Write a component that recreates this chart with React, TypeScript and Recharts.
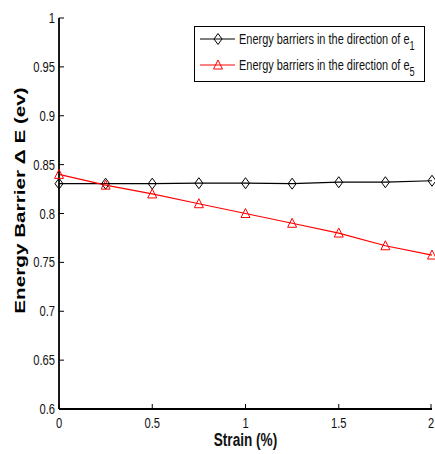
import React from 'react';
import { LineChart, Line, XAxis, YAxis } from 'recharts';

const strain = [0, 0.25, 0.5, 0.75, 1, 1.25, 1.5, 1.75, 2];
const barrierE1 = [0.8305, 0.8305, 0.8305, 0.831, 0.831, 0.8305, 0.832, 0.832, 0.8335];
const barrierE5 = [0.84, 0.829, 0.82, 0.81, 0.80, 0.79, 0.78, 0.767, 0.7575];
const xTicks = [0, 0.5, 1, 1.5, 2];
const yTicks = [0.6, 0.65, 0.7, 0.75, 0.8, 0.85, 0.9, 0.95, 1];

const data = strain.map((s, i) => ({ strain: s, e1: barrierE1[i], e5: barrierE5[i] }));

const SANS = '"Liberation Sans", Arial, sans-serif';
const TICK = 5;
const SQUEEZE = 0.8; // narrow Helvetica look

// text squeezed horizontally (and a bit stretched vertically, like the original)
const NText = ({ x, y, anchor = 'start', size = 14, weight = 'normal', sy = 1.08, children }: any) => (
  <text
    transform={`translate(${x},${y}) scale(${SQUEEZE},${sy})`}
    textAnchor={anchor}
    fontSize={size}
    fontWeight={weight}
    fontFamily={SANS}
    fill="#111"
  >
    {children}
  </text>
);

const BottomTick = (props: any) => {
  const { x, y, payload } = props;
  return (
    <g>
      <line x1={x} y1={y} x2={x} y2={y - TICK} stroke="#000" />
      <NText x={x} y={y + 19} anchor="middle" size={14}>{payload.value}</NText>
    </g>
  );
};

const TopTick = (props: any) => {
  const { x, y } = props;
  return <line x1={x} y1={y} x2={x} y2={y + TICK} stroke="#000" />;
};

const LeftTick = (props: any) => {
  const { x, y, payload } = props;
  return (
    <g>
      <line x1={x} y1={y} x2={x + TICK} y2={y} stroke="#000" />
      <NText x={x - 4} y={y + 5} anchor="end" size={14}>{payload.value}</NText>
    </g>
  );
};

const RightTick = (props: any) => {
  const { x, y } = props;
  return <line x1={x} y1={y} x2={x - TICK} y2={y} stroke="#000" />;
};

const Diamond = ({ cx, cy }: any) => (
  <polygon
    points={`${cx},${cy - 5.5} ${cx + 4},${cy} ${cx},${cy + 5.5} ${cx - 4},${cy}`}
    fill="none"
    stroke="#000"
    strokeWidth={1}
  />
);

const Triangle = ({ cx, cy }: any) => (
  <polygon
    points={`${cx},${cy - 5} ${cx + 4.5},${cy + 4} ${cx - 4.5},${cy + 4}`}
    fill="none"
    stroke="#ff0000"
    strokeWidth={1}
  />
);

const YLabel = (props: any) => {
  const { viewBox } = props;
  const x = viewBox.x + 25;
  const y = viewBox.y + viewBox.height / 2 - 13;
  return (
    <text
      transform={`translate(${x},${y}) rotate(-90) scale(1.38,1)`}
      textAnchor="middle"
      fontSize={15}
      fontWeight="bold"
      fontFamily={SANS}
      fill="#000"
    >
      Energy Barrier Δ E (ev)
    </text>
  );
};

const XLabel = (props: any) => {
  const { viewBox } = props;
  const x = viewBox.x + viewBox.width / 2;
  return <NText x={x} y={446} anchor="middle" size={17} weight="bold" sy={1.1}>Strain (%)</NText>;
};

const legendItems = [
  { label: 'Energy barriers in the direction of e', sub: '1', color: '#000', shape: 'diamond' },
  { label: 'Energy barriers in the direction of e', sub: '5', color: '#ff0000', shape: 'triangle' },
];

const LegendBox = () => (
  <svg
    width={231}
    height={56}
    style={{ position: 'absolute', left: 194, top: 26, display: 'block' }}
  >
    <rect x={0.5} y={0.5} width={230} height={55} fill="#fff" stroke="#000" strokeWidth={1} />
    {legendItems.map((it, i) => {
      const cy = 13 + i * 26;
      return (
        <g key={i}>
          <line x1={6} y1={cy} x2={41} y2={cy} stroke={it.color} strokeWidth={1} />
          {it.shape === 'diamond' ? <Diamond cx={24} cy={cy} /> : <Triangle cx={24} cy={cy} />}
          <NText x={45} y={cy + 5} size={13.7}>
            {it.label}
            <tspan dy={6} fontSize={11.5}>{it.sub}</tspan>
          </NText>
        </g>
      );
    })}
  </svg>
);

export default function App() {
  return (
    <div style={{ position: 'absolute', left: 0, top: 0, width: 435, height: 454, background: '#fff' }}>
      <LineChart width={435} height={454} data={data} margin={{ top: 18, right: 3, bottom: 0, left: 0 }}>
        <XAxis
          xAxisId="b"
          dataKey="strain"
          type="number"
          domain={[0, 2]}
          ticks={xTicks}
          height={45}
          tickSize={0}
          tickMargin={0}
          tickLine={false}
          axisLine={{ stroke: '#000', strokeWidth: 1.8 }}
          tick={<BottomTick />}
          label={<XLabel />}
        />
        <XAxis
          xAxisId="t"
          orientation="top"
          dataKey="strain"
          type="number"
          domain={[0, 2]}
          ticks={xTicks}
          height={0}
          tickSize={0}
          tickMargin={0}
          tickLine={false}
          axisLine={{ stroke: '#000', strokeWidth: 1.8 }}
          tick={<TopTick />}
        />
        <YAxis
          yAxisId="l"
          type="number"
          domain={[0.6, 1]}
          ticks={yTicks}
          width={59}
          tickSize={0}
          tickMargin={0}
          tickLine={false}
          axisLine={{ stroke: '#000', strokeWidth: 1.8 }}
          tick={<LeftTick />}
          label={<YLabel />}
        />
        <YAxis
          yAxisId="r"
          orientation="right"
          type="number"
          domain={[0.6, 1]}
          ticks={yTicks}
          width={0}
          tickSize={0}
          tickMargin={0}
          tickLine={false}
          axisLine={{ stroke: '#000', strokeWidth: 1.8 }}
          tick={<RightTick />}
        />
        <Line
          xAxisId="b"
          yAxisId="l"
          dataKey="e1"
          stroke="#000"
          strokeWidth={1.2}
          dot={<Diamond />}
          activeDot={false}
          isAnimationActive={false}
        />
        <Line
          xAxisId="b"
          yAxisId="l"
          dataKey="e5"
          stroke="#ff0000"
          strokeWidth={1.2}
          dot={<Triangle />}
          activeDot={false}
          isAnimationActive={false}
        />
      </LineChart>
      <LegendBox />
    </div>
  );
}
